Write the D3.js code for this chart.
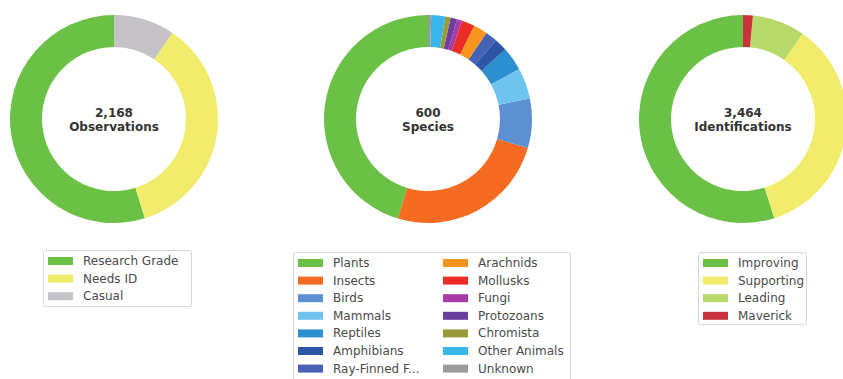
<!DOCTYPE html>
<html>
<head>
<meta charset="utf-8">
<script src="https://cdn.jsdelivr.net/npm/d3@7"></script>
<style>
  body { margin: 0; background: #fff; }
  svg { display: block; }
  text { font-family: "DejaVu Sans", sans-serif; }
  .center { font-weight: bold; font-size: 12px; fill: #333; }
  .legend text { font-size: 12px; fill: #4a4a4a; }
</style>
</head>
<body>
<div class="container"></div>
<script>
// observations
var obsLabels = ["Research Grade", "Needs ID", "Casual"];
var obsValues = [1188, 775, 205];
var obsColors = ["#6bc146", "#f2ec6c", "#c4c2c7"];

// species
var speciesLabels = ["Plants", "Insects", "Birds", "Mammals", "Reptiles", "Amphibians", "Ray-Finned F...",
    "Arachnids", "Mollusks", "Fungi", "Protozoans", "Chromista", "Other Animals", "Unknown"];
var speciesValues = [272, 151, 46, 29, 22, 12, 11, 13, 12, 5, 6, 5, 13, 3];
var speciesColors = ["#6bc146", "#f46b21", "#5c90d0", "#6ec4ef", "#2b8fd0", "#2f55a6", "#4662b4",
    "#f7941e", "#ea2c24", "#a93aa8", "#6a3fa0", "#9a9a38", "#38b6ea", "#9b9b9b"];

// identifications
var idLabels = ["Improving", "Supporting", "Leading", "Maverick"];
var idValues = [1901, 1227, 283, 53];
var idColors = ["#6bc146", "#f2ec6c", "#b7d86b", "#c8323a"];

var totals = ["2,168", "600", "3,464"];
var titles = ["Observations", "Species", "Identifications"];

var width = 843, height = 379;
var outerR = 104, innerR = 72;

var svg = d3.select(".container").append("svg")
    .attr("width", width)
    .attr("height", height);

// matplotlib style: start at top, go counter-clockwise
var pie = d3.pie().sort(null).startAngle(0).endAngle(-2 * Math.PI);
var arc = d3.arc().innerRadius(innerR).outerRadius(outerR);

function donut(cx, cy, values, colors, total, title) {
    var g = svg.append("g").attr("transform", "translate(" + cx + "," + cy + ")");
    g.selectAll("path")
        .data(pie(values))
        .enter()
        .append("path")
        .attr("d", arc)
        .attr("fill", function (d, i) { return colors[i]; });
    g.append("text").attr("class", "center")
        .attr("text-anchor", "middle")
        .attr("y", -2)
        .text(total);
    g.append("text").attr("class", "center")
        .attr("text-anchor", "middle")
        .attr("y", 12)
        .text(title);
}

function legend(x, y, w, h, labels, colors, perCol, colGap) {
    var g = svg.append("g").attr("class", "legend");
    g.append("rect")
        .attr("x", x + 0.5).attr("y", y + 0.5)
        .attr("width", w).attr("height", h)
        .attr("rx", 2)
        .attr("fill", "#fff")
        .attr("stroke", "#d6d6d6");
    labels.forEach(function (lab, i) {
        var col = Math.floor(i / perCol), row = i % perCol;
        var lx = x + 5 + col * colGap, ly = y + 11 + row * 17.6;
        g.append("rect")
            .attr("x", lx).attr("y", ly - 4)
            .attr("width", 25).attr("height", 8)
            .attr("fill", colors[i]);
        g.append("text")
            .attr("x", lx + 35).attr("y", ly + 4)
            .text(lab);
    });
}

donut(114, 119, obsValues, obsColors, totals[0], titles[0]);
donut(428, 119, speciesValues, speciesColors, totals[1], titles[1]);
donut(743, 119, idValues, idColors, totals[2], titles[2]);

legend(43, 250, 148, 56, obsLabels, obsColors, 3, 0);
legend(293, 252, 277, 135, speciesLabels, speciesColors, 7, 145);
legend(698, 252, 108, 72, idLabels, idColors, 4, 0);
</script>
</body>
</html>
